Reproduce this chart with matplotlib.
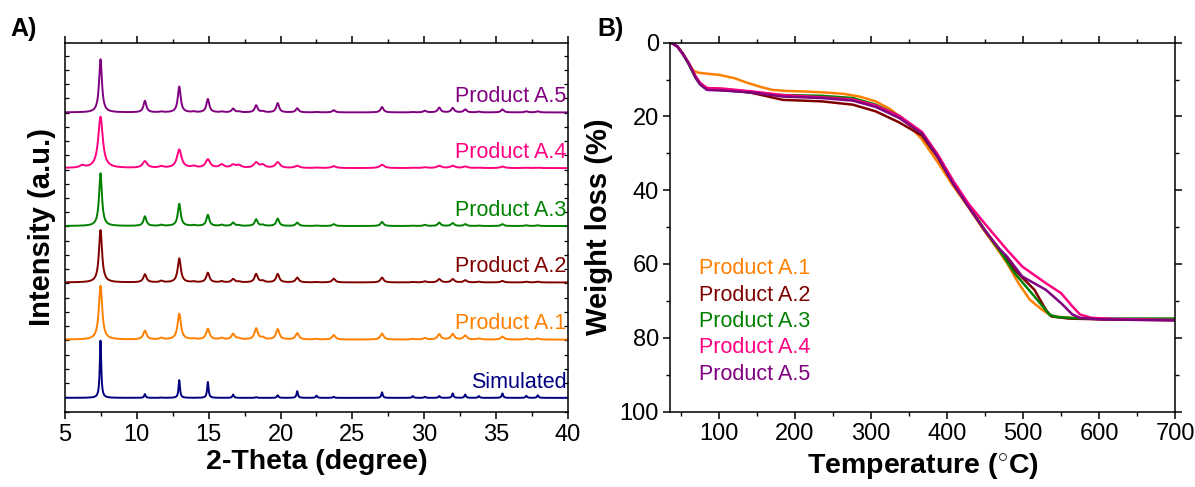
import numpy as np
import matplotlib
matplotlib.use('Agg')
import matplotlib.pyplot as plt
from matplotlib.ticker import MultipleLocator, NullFormatter

plt.rcParams['font.family'] = ['Liberation Sans', 'DejaVu Sans']
plt.rcParams['mathtext.fontset'] = 'custom'
plt.rcParams['mathtext.rm'] = 'Liberation Sans'
plt.rcParams['mathtext.bf'] = 'Liberation Sans:bold'

# ---- XRD (panel A) ----
xrd_names = ['Simulated', 'Product A.1', 'Product A.2', 'Product A.3', 'Product A.4', 'Product A.5']
xrd_colors = ['#000080', '#ff8000', '#800000', '#008000', '#ff0080', '#800080']
xrd_offsets = [3.7, 19.5, 35.0, 50.3, 66.0, 81.1]
xrd_halfwidth = [0.06, 0.14, 0.13, 0.12, 0.19, 0.12]

peak_pos = [6.2, 7.47, 10.56, 11.7, 12.95, 13.96, 14.94, 15.9, 16.7, 17.1, 18.3, 18.76, 19.8,
            21.16, 22.5, 23.7, 27.06, 29.2, 30.04, 31.04, 31.98, 32.85, 33.8, 35.44, 37.1, 37.9]
h_sim = [0, 15.5, 1.0, 0.1, 4.8, 0, 4.3, 0, 0.9, 0, 0.2, 0, 0.7,
         1.8, 0.6, 0.3, 1.5, 0.5, 0.3, 0.5, 1.2, 0.9, 0.5, 1.2, 0.55, 0.7]
h_a1 = [0, 14.6, 2.35, 0.4, 7.0, 0.2, 2.9, 0.4, 1.5, 0.3, 3.0, 0.5, 2.8,
        1.7, 0.2, 1.2, 1.6, 0.2, 0.4, 1.45, 1.5, 1.1, 0.3, 0.8, 0.3, 0.3]
h_a2 = [0, 14.2, 2.2, 0.4, 6.5, 0.2, 2.6, 0.3, 0.9, 0.2, 2.3, 0.4, 2.3,
        1.3, 0.1, 1.0, 1.3, 0.1, 0.3, 0.9, 0.9, 0.6, 0.2, 0.4, 0.2, 0.2]
h_a3 = [0, 14.3, 2.6, 0.3, 6.0, 0.2, 3.0, 0.3, 0.9, 0.2, 1.8, 0.3, 2.0,
        0.9, 0.1, 0.5, 1.1, 0.1, 0.3, 0.9, 0.8, 0.5, 0.1, 0.5, 0.2, 0.2]
h_a4 = [0.6, 13.9, 1.8, 0.4, 5.0, 0.45, 2.3, 0.9, 0.8, 0.7, 1.45, 0.8, 1.55,
        0.6, 0.1, 0.5, 0.9, 0.1, 0.2, 0.6, 0.6, 0.4, 0.1, 0.4, 0.1, 0.1]
h_a5 = [0, 14.4, 3.1, 0.2, 7.0, 0.2, 3.6, 0.2, 1.0, 0.2, 1.9, 0.3, 2.5,
        1.1, 0.1, 0.6, 1.45, 0.1, 0.45, 1.3, 1.2, 0.8, 0.2, 0.8, 0.3, 0.3]
xrd_heights = [h_sim, h_a1, h_a2, h_a3, h_a4, h_a5]

# ---- TGA (panel B) ----
tga_names = ['Product A.1', 'Product A.2', 'Product A.3', 'Product A.4', 'Product A.5']
tga_colors = ['#ff8000', '#800000', '#008000', '#ff0080', '#800080']

t_a1 = [37, 45, 52, 60, 66, 72, 80, 101, 120, 136, 155, 170, 190, 210, 240, 265, 285, 306, 326,
        347, 367, 388, 408, 428, 449, 469, 479, 494, 509, 525, 537, 550, 575, 620, 700]
w_a1 = [0, 1.0, 2.9, 5.5, 7.5, 8.1, 8.3, 8.75, 9.6, 10.8, 12.0, 12.8, 13.1, 13.2, 13.5, 13.9, 14.6, 15.9, 18.1,
        21.7, 26.2, 32.5, 38.8, 44.6, 51.0, 56.8, 59.8, 65.2, 69.7, 72.4, 74.0, 74.4, 74.8, 75.0, 75.2]
t_a2 = [37, 45, 52, 60, 69, 75, 84, 108, 143, 184, 235, 276, 306, 337, 367, 388, 408, 428, 449,
        469, 489, 515, 530, 537, 560, 620, 700]
w_a2 = [0, 1.0, 2.9, 5.6, 9.2, 11.0, 12.3, 12.6, 13.6, 15.5, 15.9, 16.8, 18.6, 21.6, 25.2, 31.2, 38.2, 44.3, 50.7,
        56.2, 61.6, 67.0, 72.4, 74.2, 74.8, 75.1, 75.2]
t_a3 = [37, 45, 52, 60, 69, 75, 84, 108, 143, 184, 235, 276, 306, 337, 367, 388, 408, 428, 449,
        469, 489, 515, 535, 545, 570, 620, 700]
w_a3 = [0, 1.0, 3.0, 5.8, 9.5, 11.3, 12.6, 12.9, 13.5, 14.2, 14.4, 15.0, 16.8, 19.8, 24.5, 30.6, 37.6, 44.0, 50.6,
        56.3, 62.5, 68.8, 73.8, 74.4, 74.7, 74.8, 74.8]
t_a4 = [37, 45, 52, 60, 69, 75, 84, 108, 143, 184, 235, 276, 306, 337, 367, 388, 408, 428, 449,
        479, 499, 530, 550, 565, 575, 590, 620, 700]
w_a4 = [0, 1.0, 2.9, 5.5, 9.0, 10.9, 12.3, 12.5, 13.2, 14.2, 14.8, 15.4, 17.0, 19.8, 24.2, 30.4, 37.4, 43.6, 48.9,
        56.2, 60.7, 65.2, 67.9, 71.5, 73.7, 74.6, 74.9, 75.2]
t_a5 = [37, 45, 52, 60, 69, 75, 84, 108, 143, 184, 235, 276, 306, 337, 367, 388, 408, 428, 449,
        469, 479, 499, 530, 550, 565, 575, 600, 700]
w_a5 = [0, 1.0, 2.9, 5.6, 9.4, 11.3, 12.8, 13.0, 13.5, 14.6, 15.0, 15.7, 17.4, 20.4, 24.6, 31.0, 38.2, 44.4, 50.7,
        55.9, 58.0, 63.4, 67.0, 70.6, 73.7, 74.6, 75.0, 75.3]
tga_t = [t_a1, t_a2, t_a3, t_a4, t_a5]
tga_w = [w_a1, w_a2, w_a3, w_a4, w_a5]

fig = plt.figure(figsize=(11.95, 4.87), dpi=100)
axA = fig.add_axes([0.0544, 0.155, 0.4209, 0.7573])
axB = fig.add_axes([0.5607, 0.155, 0.4226, 0.7573])

tick_fs = 17
label_fs = 21

# panel A: stacked XRD patterns built from the peak table
x = np.linspace(5, 40, 3501)
pos = np.array(peak_pos)
for name, col, off, hw, hts in zip(xrd_names, xrd_colors, xrd_offsets, xrd_halfwidth, xrd_heights):
    hts = np.array(hts)
    y = off + (hts[:, None] / (1 + ((x[None, :] - pos[:, None]) / hw) ** 2)).sum(axis=0)
    axA.plot(x, y, color=col, lw=1.4)
    axA.text(39.9, off + 4.3, name, color=col, fontsize=15.5, ha='right', va='center')

axA.set_xlim(5, 40)
axA.set_ylim(0, 100)
axA.xaxis.set_major_locator(MultipleLocator(5))
axA.xaxis.set_minor_locator(MultipleLocator(2.5))
axA.yaxis.set_major_locator(MultipleLocator(3.86))
axA.yaxis.set_major_formatter(NullFormatter())
axA.tick_params(axis='x', which='major', direction='out', length=5, width=1.1, labelsize=tick_fs, pad=4)
axA.tick_params(axis='x', which='minor', direction='out', length=3, width=1.0)
axA.tick_params(axis='x', which='both', top=True)
axA.tick_params(axis='y', which='major', direction='in', length=3, width=0.9, right=True)
axA.set_xlabel('2-Theta (degree)', fontsize=20.5, fontweight='bold', labelpad=2)
axA.set_ylabel('Intensity (a.u.)', fontsize=label_fs, fontweight='bold', labelpad=3)

# panel B: TGA curves
for name, col, t, w in zip(tga_names, tga_colors, tga_t, tga_w):
    axB.plot(t, w, color=col, lw=1.8, solid_joinstyle='round')
for i, (name, col) in enumerate(zip(tga_names, tga_colors)):
    axB.text(73.7, 61.3 + i * 7.15, name, color=col, fontsize=15.5, ha='left', va='center')

axB.set_xlim(35.5, 700)
axB.set_ylim(100, 0)
axB.xaxis.set_major_locator(MultipleLocator(100))
axB.xaxis.set_minor_locator(MultipleLocator(50))
axB.yaxis.set_major_locator(MultipleLocator(20))
axB.yaxis.set_minor_locator(MultipleLocator(10))
axB.tick_params(axis='both', which='major', direction='out', length=5, width=1.1, labelsize=tick_fs, pad=3)
axB.tick_params(axis='both', which='minor', direction='out', length=3, width=1.0)
axB.tick_params(axis='both', which='both', top=True, right=True)
axB.set_xlabel(r'Temperature ($^{\circ}$C)', fontsize=20.5, fontweight='bold', labelpad=5)
axB.set_ylabel('Weight loss (%)', fontsize=label_fs, fontweight='bold', labelpad=5)

for ax in (axA, axB):
    for s in ax.spines.values():
        s.set_linewidth(1.1)

fig.text(0.009, 0.94, 'A)', fontsize=18, fontweight='bold', ha='left', va='center')
fig.text(0.500, 0.94, 'B)', fontsize=18, fontweight='bold', ha='left', va='center')

fig.savefig('out.png', dpi=100)
